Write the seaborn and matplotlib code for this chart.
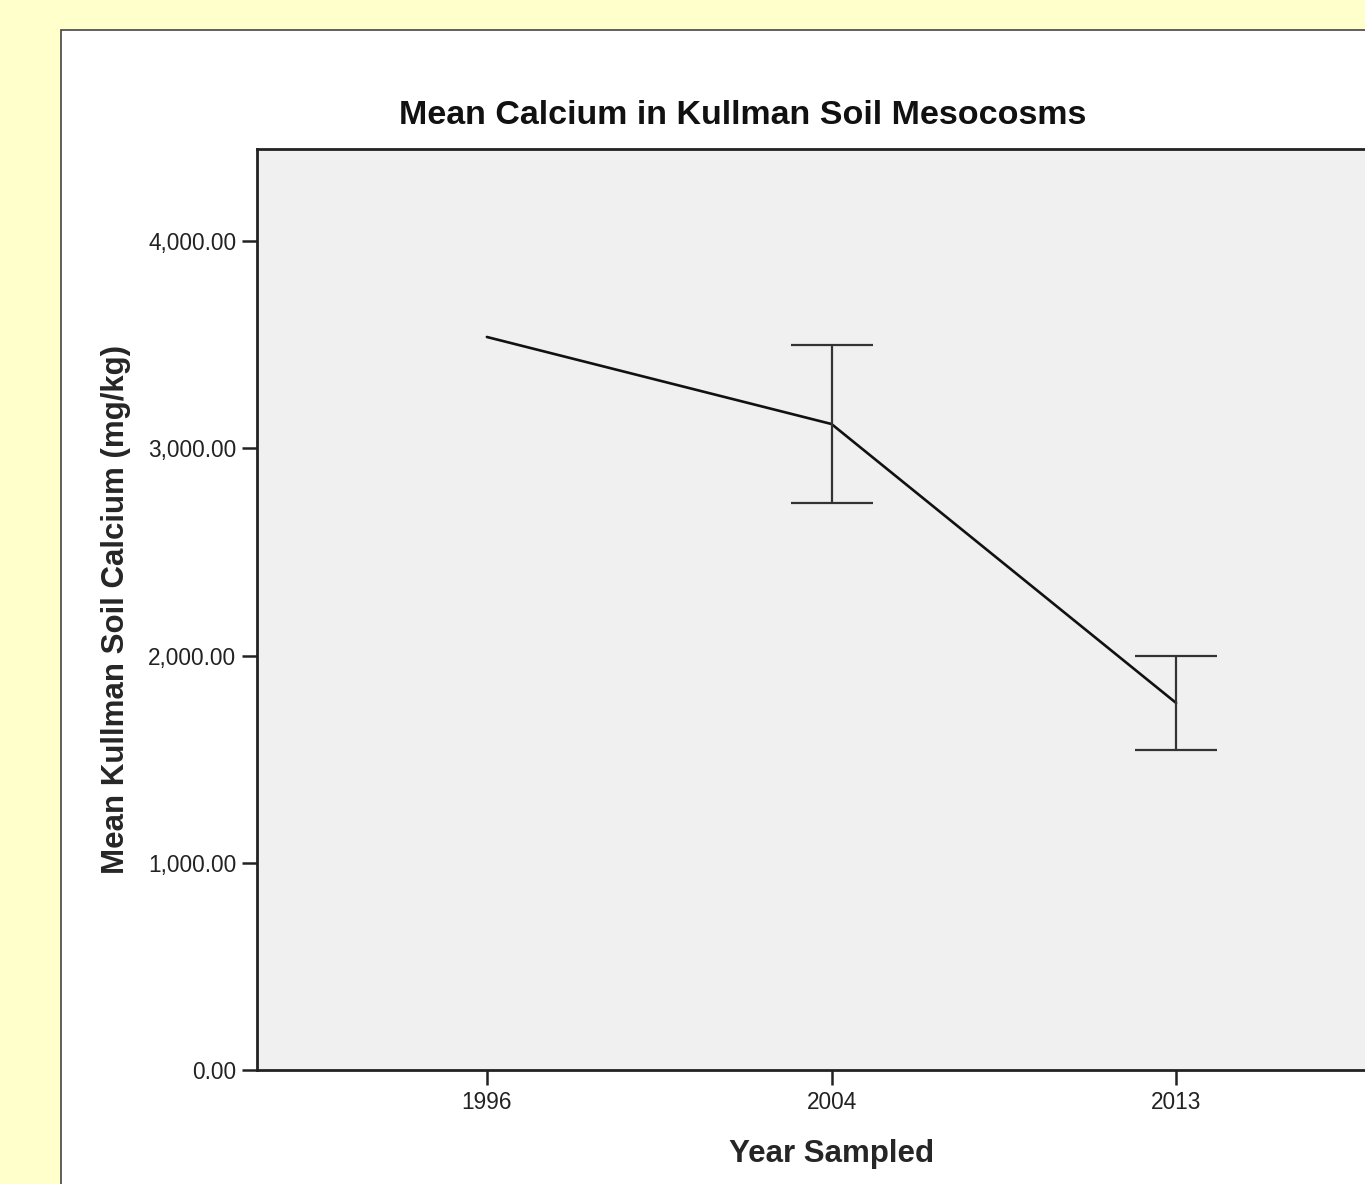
import numpy as np
import pandas as pd
import matplotlib.pyplot as plt
import matplotlib.patches as patches
from matplotlib.ticker import FuncFormatter
import seaborn as sns

# Data
years = ['1996', '2004', '2013']
mean_ca = [3537, 3117, 1771]
ci_low = [np.nan, 2736, 1544]
ci_high = [np.nan, 3498, 1998]

df = pd.DataFrame({'year': years, 'calcium': mean_ca,
                   'low': ci_low, 'high': ci_high})

sns.set_style('white')
plt.rcParams['font.family'] = ['Liberation Sans', 'DejaVu Sans']

W, H = 1365, 1184
fig = plt.figure(figsize=(W / 100, H / 100), dpi=100)
fig.patch.set_facecolor('#FFFFCC')

# white panel behind the chart
panel = patches.Rectangle((61 / W, -0.1), 1.2, 1 - 30 / H + 0.1,
                          transform=fig.transFigure, facecolor='white',
                          edgecolor='#444444', linewidth=1.2, zorder=-10)
fig.patches.append(panel)

ax = fig.add_axes([257 / W, (H - 1070) / H, (1406 - 257) / W, (1070 - 149) / H])
ax.set_facecolor('#F0F0F0')

sns.lineplot(data=df, x='year', y='calcium', color='#111111',
             linewidth=1.9, ax=ax)

err = df.dropna()
ax.errorbar(err['year'], err['calcium'],
            yerr=[err['calcium'] - err['low'], err['high'] - err['calcium']],
            fmt='none', ecolor='#333333', elinewidth=1.6,
            capsize=29.5, capthick=1.6)

ax.set_xlim(-0.667, 2.667)
ax.set_ylim(0, 4444)
ax.set_yticks([0, 1000, 2000, 3000, 4000])
ax.yaxis.set_major_formatter(FuncFormatter(lambda v, p: f'{v:,.2f}'))

for s in ax.spines.values():
    s.set_color('#222222')
    s.set_linewidth(2)
ax.tick_params(axis='both', direction='out', length=11, width=1.8,
               color='#222222', labelsize=16.3, labelcolor='#222222', pad=4,
               bottom=True, left=True)

ax.set_xlabel('Year Sampled', fontsize=22.5, fontweight='bold', labelpad=18)
ax.set_ylabel('Mean Kullman Soil Calcium (mg/kg)', fontsize=22.5,
              fontweight='bold', labelpad=12)

fig.text(743 / W, 1 - 115 / H, 'Mean Calcium in Kullman Soil Mesocosms',
         ha='center', va='center', fontsize=24.5, fontweight='bold',
         color='#111111')

plt.savefig('out.png', dpi=100, facecolor=fig.get_facecolor())
